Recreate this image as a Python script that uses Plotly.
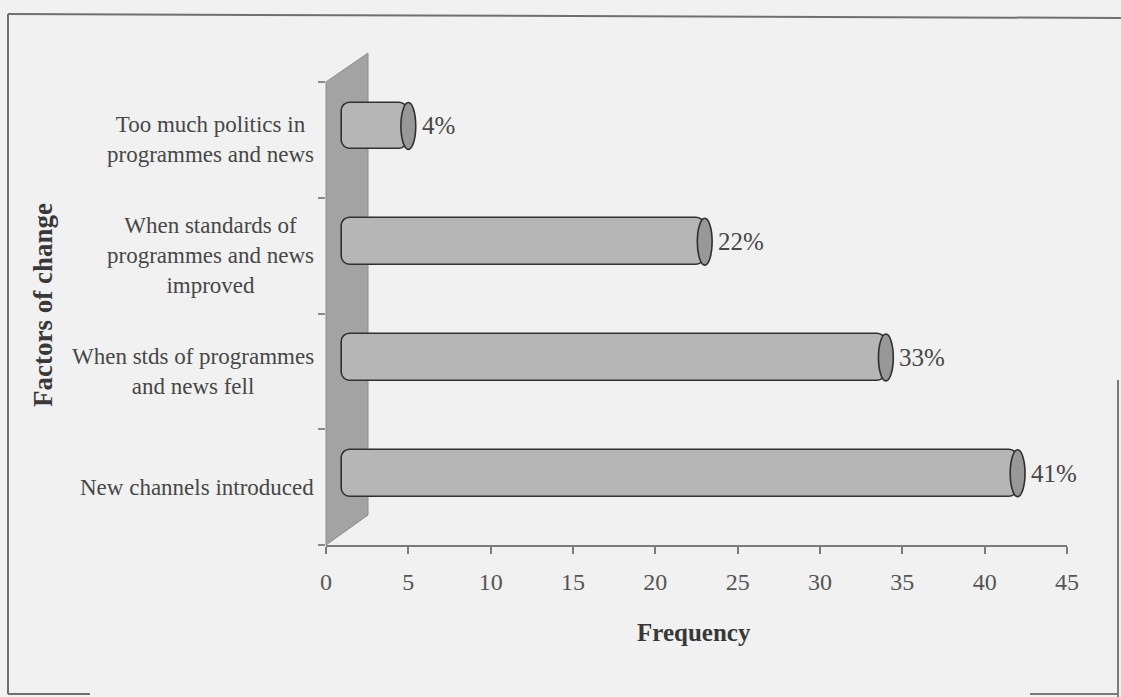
import plotly.graph_objects as go

# Factors behind a change of station, bottom to top
categories = [
    "New channels introduced",
    "When stds of programmes<br>and news fell",
    "When standards of<br>programmes and news<br>improved",
    "Too much politics in<br>programmes and news",
]
values = [41, 33, 22, 4]
labels = [f"{v}%" for v in values]
x_ticks = list(range(0, 46, 5))

SERIF = "Liberation Serif, Times New Roman, serif"
TEXT = "#474747"

W, H = 1121, 697
L, R, T, B = 326, 54, 82, 152
PW, PH = W - L - R, H - T - B


def px(xp, yp):
    """Page pixel position -> paper coordinates of the plot area."""
    return (xp - L) / PW, (H - B - yp) / PH


DEPTH = 1.0          # cylinder start (3-D depth shift along the value axis)
LIFT = 0.12          # depth shift along the category axis
THICK = 0.405        # cylinder thickness in category units
CAP = 0.45           # half width of the end cap ellipse, value units

fig = go.Figure()

fig.add_trace(go.Bar(
    orientation="h",
    y=categories,
    x=values,
    base=DEPTH,
    width=THICK,
    offset=-THICK / 2 + LIFT,
    marker=dict(color="#b6b6b6", line=dict(color="#303030", width=1.6),
                cornerradius=9),
    hoverinfo="skip",
    showlegend=False,
))

shapes = []

# back wall of the 3-D plot
w0x, w0y = px(326, 545)
w1x, w1y = px(326, 82)
w2x, w2y = px(368, 53)
w3x, w3y = px(368, 515)
shapes.append(dict(
    type="path", xref="paper", yref="paper", layer="below",
    path=f"M{w0x},{w0y} L{w1x},{w1y} L{w2x},{w2y} L{w3x},{w3y} Z",
    fillcolor="#a3a3a3", line=dict(color="#8c8c8c", width=1),
))

# end caps of the cylinders
for i, v in enumerate(values):
    end = DEPTH + v
    shapes.append(dict(
        type="circle", xref="x", yref="y", layer="above",
        x0=end - CAP, x1=end + CAP,
        y0=i + LIFT - THICK / 2, y1=i + LIFT + THICK / 2,
        fillcolor="#989898", line=dict(color="#303030", width=1.6),
    ))


# frame around the figure
def seg(xa, ya, xb, yb, width=2, color="#6f6f6f"):
    ax, ay = px(xa, ya)
    bx, by = px(xb, yb)
    return dict(type="line", xref="paper", yref="paper", x0=ax, y0=ay,
                x1=bx, y1=by, line=dict(color=color, width=width))


shapes += [
    seg(8, 14, 1121, 18),
    seg(8, 14, 8, 694),
    seg(8, 694, 90, 694),
    seg(1118, 380, 1118, 697, width=2, color="#7a7a7a"),
    seg(1030, 694, 1118, 694, width=2, color="#7a7a7a"),
]

annotations = []

# category labels, centred lines
for i, c in enumerate(categories):
    annotations.append(dict(
        text=c, xref="paper", yref="y", x=px(316, 0)[0], y=i,
        xanchor="right", yanchor="middle", align="center", showarrow=False,
        font=dict(family=SERIF, size=23, color=TEXT),
    ))

# value labels at the end of each cylinder
for i, (v, lab) in enumerate(zip(values, labels)):
    annotations.append(dict(
        text=lab, xref="x", yref="y", x=DEPTH + v + CAP, y=i + LIFT,
        xanchor="left", yanchor="middle", xshift=4, showarrow=False,
        font=dict(family=SERIF, size=25, color=TEXT),
    ))

tx, ty = px(694, 632)
annotations.append(dict(
    text="<b>Frequency</b>", xref="paper", yref="paper", x=tx, y=ty,
    xanchor="center", yanchor="middle", showarrow=False,
    font=dict(family=SERIF, size=25, color="#383838"),
))
yx, yy = px(43, 305)
annotations.append(dict(
    text="<b>Factors of change</b>", xref="paper", yref="paper", x=yx, y=yy,
    xanchor="center", yanchor="middle", textangle=-90, showarrow=False,
    font=dict(family=SERIF, size=27, color="#383838"),
))

fig.update_layout(
    width=W, height=H,
    margin=dict(l=L, r=R, t=T, b=B),
    paper_bgcolor="#f1f1f1",
    plot_bgcolor="rgba(0,0,0,0)",
    shapes=shapes,
    annotations=annotations,
    bargap=0,
    xaxis=dict(
        range=[0, 45], tickvals=x_ticks, ticktext=[str(t) for t in x_ticks],
        showgrid=False, zeroline=False, showline=True,
        linecolor="#7a7a7a", linewidth=1.5,
        ticks="outside", ticklen=7, tickcolor="#7a7a7a", tickwidth=1.5,
        tickfont=dict(family=SERIF, size=24, color="#555555"),
        ticklabelstandoff=7,
        fixedrange=True,
    ),
    yaxis=dict(
        type="category", categoryorder="array", categoryarray=categories,
        range=[-0.5, 3.5],
        showticklabels=False, showgrid=False, zeroline=False,
        showline=False,
        ticks="outside", tickson="boundaries", ticklen=7,
        tickcolor="#8a8a8a", tickwidth=1.5,
        fixedrange=True,
    ),
)

fig.write_html("out.html")
